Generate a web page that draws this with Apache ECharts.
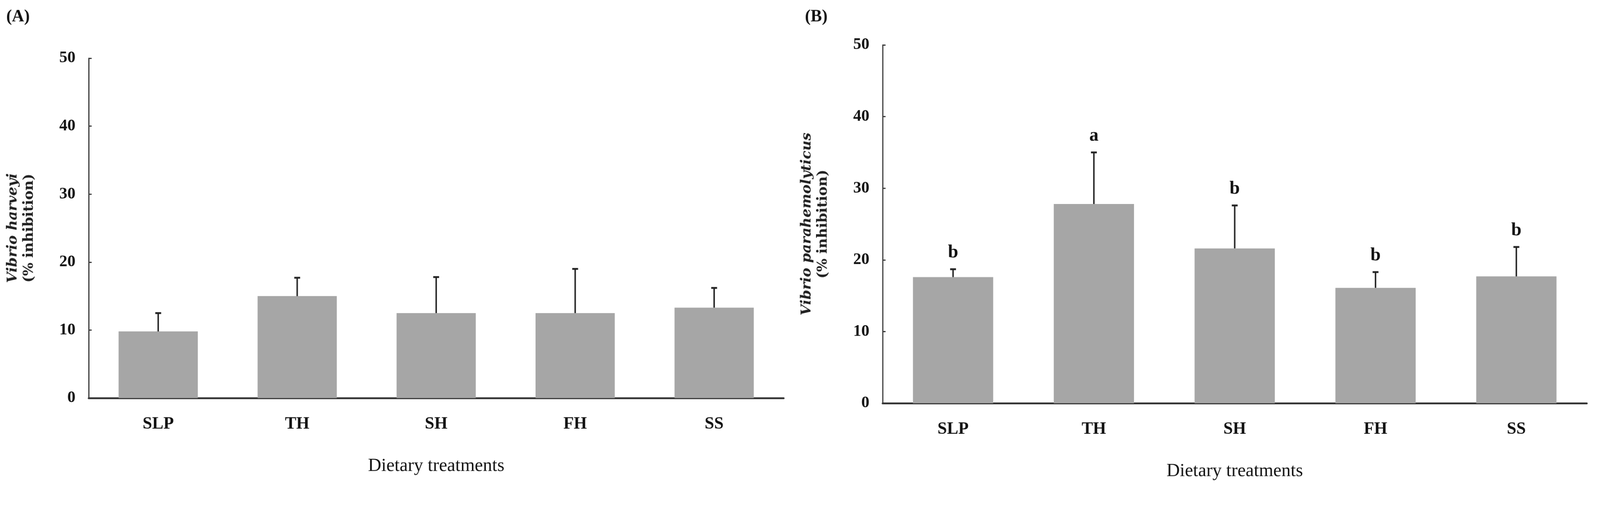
<!DOCTYPE html>
<html><head><meta charset="utf-8">
<script src="https://cdn.jsdelivr.net/npm/echarts@6/dist/echarts.min.js"></script>
<style>html,body{margin:0;background:#fff;overflow:hidden}#c{width:4347px;height:1323px;transform-origin:0 0}</style>
</head><body><div id="c"></div>
<script>
var categories = ['SLP', 'TH', 'SH', 'FH', 'SS'];
var harveyiMean = [9.8, 15.0, 12.5, 12.5, 13.3];
var harveyiTop = [12.5, 17.7, 17.8, 19.0, 16.2];
var paraMean = [17.6, 27.8, 21.6, 16.1, 17.7];
var paraTop = [18.7, 35.0, 27.6, 18.3, 21.8];
var paraLetters = ['b', 'a', 'b', 'b', 'b'];

var box = document.getElementById('c');
var s = Math.min(window.innerWidth / 4347, window.innerHeight / 1323);
if (s < 1) box.style.transform = 'scale(' + s + ')';

var chart = echarts.init(box);
var font = 'Liberation Serif';

function errItem(letters) {
  return function (params, api) {
    var x = api.value(0), m = api.value(1), t = api.value(2);
    var p0 = api.coord([x, m]), p1 = api.coord([x, t]);
    var kids = [
      {type: 'line', shape: {x1: p0[0], y1: p0[1], x2: p1[0], y2: p1[1]}, style: {stroke: '#222', lineWidth: 4}},
      {type: 'line', shape: {x1: p1[0] - 8, y1: p1[1], x2: p1[0] + 8, y2: p1[1]}, style: {stroke: '#222', lineWidth: 5}}
    ];
    if (letters) {
      kids.push({type: 'text', x: p1[0], y: p1[1] - 20, style: {text: letters[params.dataIndex], fill: '#111', font: 'bold 50px ' + font, textAlign: 'center', textVerticalAlign: 'bottom'}});
    }
    return {type: 'group', children: kids};
  };
}

function axes(i, title) {
  return {
    x: {
      type: 'category', gridIndex: i, data: categories,
      axisLine: {lineStyle: {color: '#333', width: 5}},
      axisTick: {length: 12, lineStyle: {color: '#333', width: 3}},
      axisLabel: {color: '#111', fontFamily: font, fontWeight: 'bold', fontSize: 46, margin: 48},
      name: 'Dietary treatments', nameLocation: 'middle', nameGap: 160,
      nameTextStyle: {color: '#111', fontFamily: font, fontSize: 50}
    },
    y: {
      type: 'value', gridIndex: i, min: 0, max: 50, interval: 10,
      splitLine: {show: false},
      axisLine: {show: true, lineStyle: {color: '#333', width: 3}},
      axisTick: {show: true, inside: true, length: 8, lineStyle: {color: '#333', width: 3}},
      axisLabel: {color: '#111', fontFamily: font, fontWeight: 'bold', fontSize: 44, margin: 36},
      name: '{i|' + title + '}\n{n|(% inhibition)}', nameLocation: 'middle', nameRotate: 90, nameGap: 140,
      nameTextStyle: {rich: {
        i: {fontFamily: 'DejaVu Serif', fontStyle: 'italic', fontWeight: 'bold', fontSize: 38, color: '#222', lineHeight: 44},
        n: {fontFamily: 'DejaVu Serif', fontWeight: 'bold', fontSize: 38, color: '#222', lineHeight: 44}
      }}
    }
  };
}
var a = axes(0, 'Vibrio harveyi'), b = axes(1, 'Vibrio parahemolyticus');

function errData(mean, top) {
  return mean.map(function (v, k) { return [k, v, top[k]]; });
}

chart.setOption({
  animation: false,
  title: [
    {text: '(A)', left: 12, top: 18, textStyle: {fontFamily: font, fontWeight: 'bold', fontSize: 46, color: '#111'}},
    {text: '(B)', left: 2182, top: 18, textStyle: {fontFamily: font, fontWeight: 'bold', fontSize: 46, color: '#111'}}
  ],
  grid: [
    {left: 241, top: 158, width: 1888, height: 923},
    {left: 2398, top: 122, width: 1913, height: 973}
  ],
  xAxis: [a.x, b.x],
  yAxis: [a.y, b.y],
  series: [
    {type: 'bar', xAxisIndex: 0, yAxisIndex: 0, data: harveyiMean, barWidth: '57%', itemStyle: {color: '#a6a6a6'}},
    {type: 'custom', xAxisIndex: 0, yAxisIndex: 0, data: errData(harveyiMean, harveyiTop), renderItem: errItem(null), z: 3},
    {type: 'bar', xAxisIndex: 1, yAxisIndex: 1, data: paraMean, barWidth: '57%', itemStyle: {color: '#a6a6a6'}},
    {type: 'custom', xAxisIndex: 1, yAxisIndex: 1, data: errData(paraMean, paraTop), renderItem: errItem(paraLetters), z: 3}
  ]
});
</script></body></html>
